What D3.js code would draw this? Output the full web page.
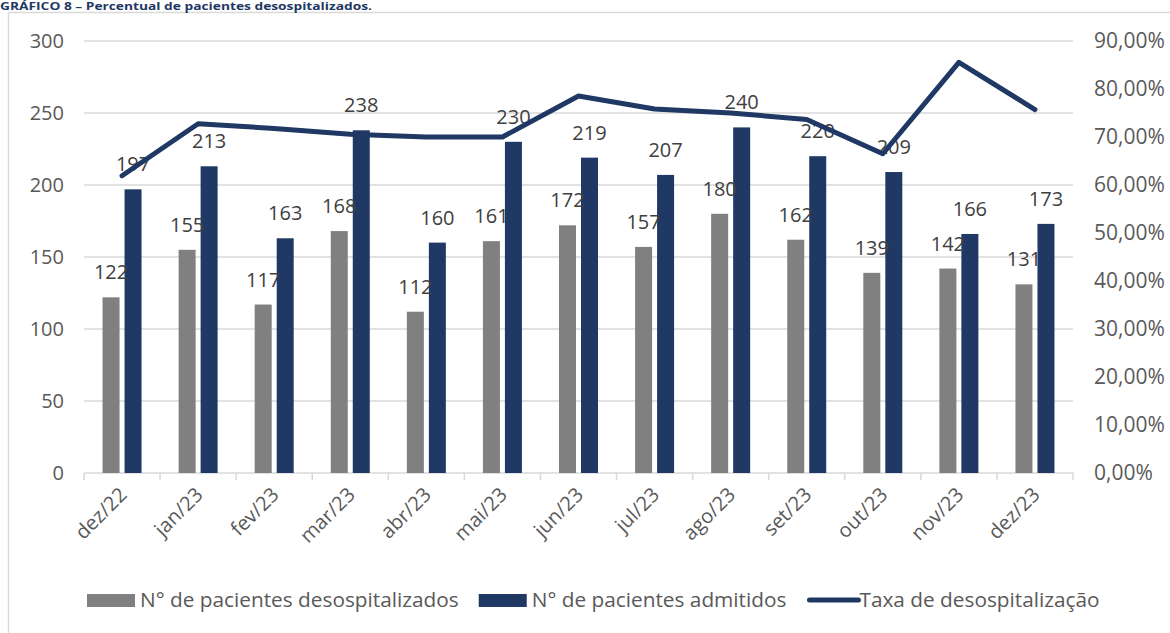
<!DOCTYPE html>
<html>
<head>
<meta charset="utf-8">
<script src="https://cdn.jsdelivr.net/npm/d3@7"></script>
<style>
  body { margin: 0; background: #fff; }
  text { font-family: "Open Sans", sans-serif; }
</style>
</head>
<body>
<div id="graph-container"></div>
<script>
// values
const months = ["dez/22", "jan/23", "fev/23", "mar/23", "abr/23", "mai/23", "jun/23",
  "jul/23", "ago/23", "set/23", "out/23", "nov/23", "dez/23"]
const desospitalizados = [122, 155, 117, 168, 112, 161, 172, 157, 180, 162, 139, 142, 131]
const admitidos = [197, 213, 163, 238, 160, 230, 219, 207, 240, 220, 209, 166, 173]
const taxa = [61.93, 72.77, 71.78, 70.59, 70.00, 70.00, 78.54, 75.85, 75.00, 73.64, 66.51, 85.54, 75.72]
const leftTicks = [0, 50, 100, 150, 200, 250, 300]
const rightTicks = [0, 10, 20, 30, 40, 50, 60, 70, 80, 90]

const width = 1170
const height = 633
const grey = "#808080"
const navy = "#203864"
const labelColor = "#595959"

const svg = d3.select("#graph-container")
  .append("svg")
  .attr("id", "graph")
  .attr("width", width)
  .attr("height", height)

// frame
svg.append("rect")
  .attr("x", 8.5).attr("y", 12.5)
  .attr("width", 1200).attr("height", 700)
  .attr("fill", "none")
  .attr("stroke", "#d9d9d9")
  .attr("stroke-width", 1.5)

// title, sitting right at the top edge
svg.append("text")
  .attr("x", 0).attr("y", 10)
  .attr("textLength", 372)
  .attr("lengthAdjust", "spacingAndGlyphs")
  .style("font-family", "'Liberation Sans Narrow', 'Open Sans', sans-serif")
  .style("font-weight", "bold")
  .style("font-size", "10px")
  .style("fill", "#1f3864")
  .text("GRÁFICO 8 – Percentual de pacientes desospitalizados.")

const x = d3.scaleBand()
  .domain(months)
  .range([84, 1073])

const y = d3.scaleLinear()
  .domain([0, 300])
  .range([473, 41])

const y2 = d3.scaleLinear()
  .domain([0, 90])
  .range([473, 41])

// gridlines
svg.append("g")
  .selectAll("line")
  .data(leftTicks.slice(1))
  .enter()
  .append("line")
  .attr("x1", 84).attr("x2", 1073)
  .attr("y1", d => y(d)).attr("y2", d => y(d))
  .attr("stroke", "#d9d9d9")
  .attr("stroke-width", 1.5)

// left axis
const leftAxis = svg.append("g")
  .attr("transform", "translate(64,0)")
  .call(d3.axisLeft(y).tickValues(leftTicks).tickSize(0).tickPadding(0))
leftAxis.select(".domain").remove()
leftAxis.selectAll("text")
  .style("font-size", "20px")
  .style("font-family", "'Open Sans', sans-serif")
  .attr("fill", labelColor)

// right axis
const rightAxis = svg.append("g")
  .attr("transform", "translate(1094,0)")
  .call(d3.axisRight(y2).tickValues(rightTicks).tickSize(0).tickPadding(0)
    .tickFormat(d => d3.format(".2f")(d).replace(".", ",") + "%"))
rightAxis.select(".domain").remove()
rightAxis.selectAll("text")
  .style("font-size", "21px")
  .style("font-family", "'Open Sans', sans-serif")
  .attr("fill", labelColor)

// x axis
const xAxis = svg.append("g")
  .attr("transform", "translate(0,473)")
  .call(d3.axisBottom(x).tickSize(0).tickFormat(""))
xAxis.select(".domain")
  .attr("stroke", "#d9d9d9")
  .attr("stroke-width", 1.5)
  .attr("d", "M84,0H1073")

svg.append("g")
  .selectAll("line")
  .data(months.concat(["end"]))
  .enter()
  .append("line")
  .attr("x1", (d, i) => 84 + i * x.step())
  .attr("x2", (d, i) => 84 + i * x.step())
  .attr("y1", 473).attr("y2", 480)
  .attr("stroke", "#d9d9d9")
  .attr("stroke-width", 1.5)

svg.append("g")
  .selectAll("text")
  .data(months)
  .enter()
  .append("text")
  .attr("transform", d => `translate(${x(d) + x.bandwidth() / 2 + 6},${496}) rotate(-45)`)
  .style("text-anchor", "end")
  .style("font-size", "20px")
  .style("fill", labelColor)
  .text(d => d)

// bars
const barW = 17
const gap = 5
const groups = svg.append("g")
  .selectAll(".month")
  .data(months)
  .enter()
  .append("g")
  .attr("class", "month")
  .attr("transform", d => `translate(${x(d) + x.bandwidth() / 2}, 0)`)

groups.append("rect")
  .attr("x", -barW - gap / 2)
  .attr("y", (d, i) => y(desospitalizados[i]))
  .attr("width", barW)
  .attr("height", (d, i) => y(0) - y(desospitalizados[i]))
  .attr("fill", grey)

groups.append("rect")
  .attr("x", gap / 2)
  .attr("y", (d, i) => y(admitidos[i]))
  .attr("width", barW)
  .attr("height", (d, i) => y(0) - y(admitidos[i]))
  .attr("fill", navy)

// line
const line = d3.line()
  .x((d, i) => x(months[i]) + x.bandwidth() / 2)
  .y(d => y2(d))

svg.append("path")
  .datum(taxa)
  .attr("d", line)
  .attr("fill", "none")
  .attr("stroke", navy)
  .attr("stroke-width", 5)
  .attr("stroke-linejoin", "round")
  .attr("stroke-linecap", "round")

// data labels (drawn over the line like in the original)
groups.append("text")
  .attr("x", -barW / 2 - gap / 2)
  .attr("y", (d, i) => y(desospitalizados[i]) - 18)
  .style("text-anchor", "middle")
  .style("font-size", "20px")
  .style("fill", "#404040")
  .text((d, i) => desospitalizados[i])

groups.append("text")
  .attr("x", barW / 2 + gap / 2)
  .attr("y", (d, i) => y(admitidos[i]) - 18)
  .style("text-anchor", "middle")
  .style("font-size", "20px")
  .style("fill", "#404040")
  .text((d, i) => admitidos[i])

// legend
const legendItems = [
  { name: "N° de pacientes desospitalizados", type: "bar", color: grey },
  { name: "N° de pacientes admitidos", type: "bar", color: navy },
  { name: "Taxa de desospitalização", type: "line", color: navy }
]
const legend = svg.append("g").attr("transform", "translate(0,600)")
let lx = 87
legendItems.forEach(item => {
  if (item.type === "bar") {
    legend.append("rect")
      .attr("x", lx).attr("y", -6)
      .attr("width", 48).attr("height", 13)
      .attr("fill", item.color)
  } else {
    legend.append("line")
      .attr("x1", lx + 3).attr("x2", lx + 52)
      .attr("y1", 0).attr("y2", 0)
      .attr("stroke", item.color)
      .attr("stroke-width", 5)
      .attr("stroke-linecap", "round")
  }
  const t = legend.append("text")
    .attr("x", lx + 53)
    .attr("y", 7)
    .style("font-size", "20.8px")
    .style("fill", labelColor)
    .text(item.name)
  lx = lx + 53 + t.node().getComputedTextLength() + 20
})
</script>
</body>
</html>
